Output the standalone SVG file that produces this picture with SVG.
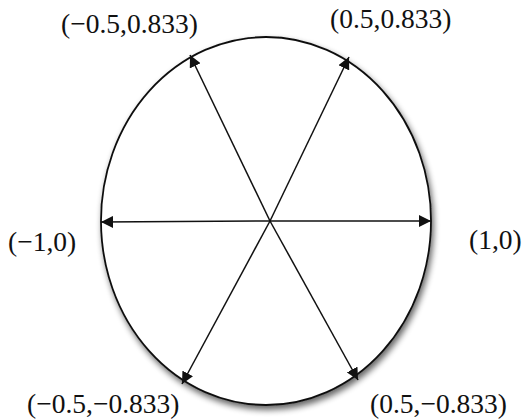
<svg xmlns="http://www.w3.org/2000/svg" width="525" height="420" viewBox="0 0 525 420">
<style>
.lbl{font-family:"Liberation Serif","Times New Roman",serif;font-size:27.5px;fill:#111}
.ax{stroke:#111;stroke-width:1.5;fill:none;marker-end:url(#ah)}
</style>
<defs>
<marker id="ah" viewBox="0 0 10 10" refX="10" refY="5" markerWidth="12" markerHeight="12" markerUnits="userSpaceOnUse" orient="auto">
<path d="M0,0 L10,5 L0,10 Z" fill="#111"/>
</marker>
<filter id="sh" x="-20%" y="-20%" width="140%" height="140%">
<feGaussianBlur in="SourceAlpha" stdDeviation="3"/>
<feOffset dx="2" dy="4" result="b"/>
<feComponentTransfer><feFuncA type="linear" slope="0.6"/></feComponentTransfer>
<feMerge><feMergeNode/><feMergeNode in="SourceGraphic"/></feMerge>
</filter>
</defs>
<g id="circle">
<ellipse cx="266" cy="221" rx="165" ry="184" fill="#fff" stroke="#111" stroke-width="1.8" filter="url(#sh)"/>
</g>
<g id="connectors">
<line class="ax" x1="270" y1="221" x2="431" y2="221"/>
<line class="ax" x1="270" y1="221" x2="101" y2="222"/>
<line class="ax" x1="270" y1="221" x2="349" y2="57"/>
<line class="ax" x1="270" y1="221" x2="190" y2="55"/>
<line class="ax" x1="270" y1="221" x2="182" y2="384"/>
<line class="ax" x1="270" y1="221" x2="358" y2="380"/>
</g>
<g id="l1"><text class="lbl" x="61" y="33">(−0.5,0.833)</text></g>
<g id="l2"><text class="lbl" x="330" y="28">(0.5,0.833)</text></g>
<g id="l3"><text class="lbl" x="8" y="251">(−1,0)</text></g>
<g id="l4"><text class="lbl" x="469" y="249">(1,0)</text></g>
<g id="l5"><text class="lbl" x="27" y="413">(−0.5,−0.833)</text></g>
<g id="l6"><text class="lbl" x="370" y="413">(0.5,−0.833)</text></g>
</svg>
